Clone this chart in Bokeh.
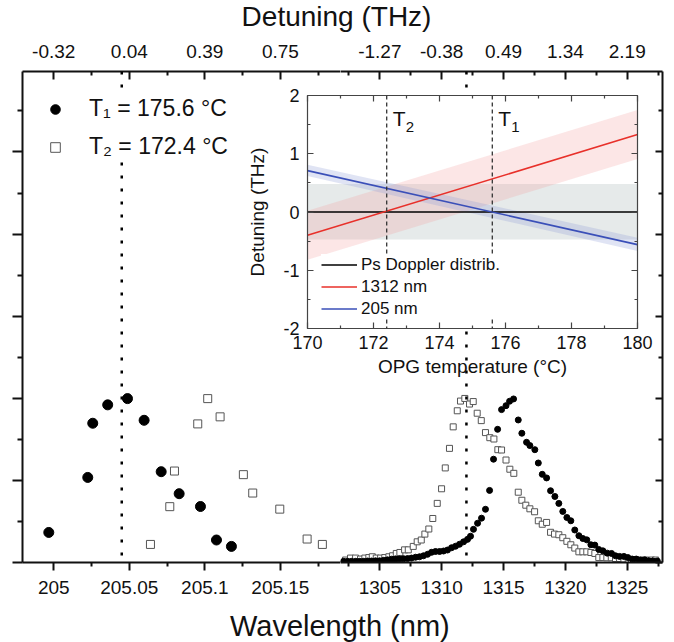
from bokeh.plotting import figure
from bokeh.models import (Range1d, LinearAxis, FixedTicker, Span, Legend, LegendItem,
                          Label, GridBox)
from bokeh.embed import file_html
from bokeh.resources import INLINE

FONT = "Liberation Sans"
INK = "#111111"

# ---------------- data ----------------
wl205_T1 = [204.9967, 205.0225, 205.0258, 205.0357, 205.0488, 205.0598, 205.0711,
            205.0830, 205.0971, 205.1077, 205.1176]
sig205_T1 = [0.183, 0.518, 0.848, 0.960, 0.998, 0.866, 0.553, 0.419, 0.341, 0.137, 0.098]
wl205_T2 = [205.0640, 205.0768, 205.0799, 205.0953, 205.1019, 205.1101, 205.1255,
            205.1317, 205.1496, 205.1677, 205.1778]
sig205_T2 = [0.110, 0.340, 0.557, 0.844, 0.998, 0.887, 0.535, 0.423, 0.325, 0.143, 0.110]

wl1312_T1 = [1302.07, 1302.39, 1302.71, 1303.04, 1303.36, 1303.68, 1304.01, 1304.33, 1304.65, 1304.98,
             1305.30, 1305.62, 1305.95, 1306.27, 1306.59, 1306.92, 1307.24, 1307.56, 1307.89, 1308.21,
             1308.53, 1308.86, 1309.18, 1309.50, 1309.83, 1310.15, 1310.47, 1310.80, 1311.12, 1311.44,
             1311.77, 1312.09, 1312.33, 1312.57, 1312.90, 1313.22, 1313.54, 1313.87, 1314.19, 1314.52,
             1314.84, 1315.20, 1315.49, 1315.81, 1316.19, 1316.48, 1316.86, 1317.13, 1317.53, 1317.81,
             1318.13, 1318.48, 1318.80, 1319.15, 1319.47, 1319.79, 1320.12, 1320.44, 1320.76, 1321.09,
             1321.41, 1321.73, 1322.06, 1322.38, 1322.70, 1323.03, 1323.38, 1323.73, 1324.05, 1324.38,
             1324.73, 1325.05, 1325.40, 1325.73, 1326.08, 1326.42, 1326.75, 1327.07, 1327.43]
sig1312_T1 = [0.007, 0.007, 0.007, 0.007, 0.007, 0.007, 0.009, 0.009, 0.010, 0.010,
              0.013, 0.016, 0.020, 0.022, 0.021, 0.023, 0.024, 0.027, 0.032, 0.035,
              0.041, 0.050, 0.062, 0.067, 0.067, 0.070, 0.076, 0.090, 0.099, 0.111,
              0.126, 0.141, 0.160, 0.202, 0.239, 0.270, 0.324, 0.439, 0.629, 0.811,
              0.931, 0.955, 0.982, 0.996, 0.868, 0.787, 0.732, 0.712, 0.687, 0.606,
              0.537, 0.515, 0.437, 0.402, 0.360, 0.311, 0.274, 0.254, 0.198, 0.163,
              0.146, 0.138, 0.108, 0.106, 0.079, 0.071, 0.057, 0.055, 0.041, 0.037,
              0.037, 0.030, 0.021, 0.021, 0.015, 0.016, 0.010, 0.009, 0.009]
wl1312_T2 = [1302.23, 1302.63, 1303.04, 1303.44, 1303.79, 1304.11, 1304.39, 1304.71, 1305.06, 1305.40,
             1305.73, 1306.03, 1306.33, 1306.62, 1307.00, 1307.30, 1307.70, 1308.02, 1308.35, 1308.64,
             1308.96, 1309.28, 1309.64, 1309.99, 1310.29, 1310.63, 1310.93, 1311.26, 1311.52, 1311.87,
             1312.25, 1312.55, 1312.87, 1313.20, 1313.54, 1313.89, 1314.22, 1314.54, 1314.84, 1315.20,
             1315.51, 1315.83, 1316.19, 1316.48, 1316.80, 1317.13, 1317.51, 1317.81, 1318.13, 1318.48,
             1318.80, 1319.12, 1319.47, 1319.79, 1320.12, 1320.44, 1320.76, 1321.09, 1321.41, 1321.73,
             1322.06, 1322.38, 1322.70, 1323.03, 1323.35, 1323.71, 1324.05, 1324.38, 1324.73, 1325.08,
             1325.35, 1325.67, 1326.08, 1326.48, 1326.96, 1327.29]
sig1312_T2 = [0.015, 0.027, 0.027, 0.021, 0.027, 0.030, 0.035, 0.027, 0.027, 0.030,
              0.035, 0.041, 0.055, 0.061, 0.077, 0.077, 0.098, 0.126, 0.137, 0.173,
              0.204, 0.268, 0.360, 0.449, 0.576, 0.695, 0.826, 0.924, 0.983, 0.999,
              0.965, 0.980, 0.909, 0.864, 0.791, 0.760, 0.752, 0.687, 0.685, 0.624,
              0.568, 0.543, 0.428, 0.379, 0.349, 0.327, 0.309, 0.254, 0.233, 0.244,
              0.184, 0.173, 0.169, 0.151, 0.129, 0.108, 0.088, 0.065, 0.065, 0.065,
              0.061, 0.055, 0.030, 0.030, 0.029, 0.029, 0.024, 0.024, 0.021, 0.016,
              0.016, 0.016, 0.015, 0.015, 0.015, 0.015]

left_ticks = [205.0, 205.05, 205.1, 205.15]
left_minor = [205.025, 205.075, 205.125, 205.175]
left_tick_labels = ["205", "205.05", "205.1", "205.15"]
left_detuning_labels = ["-0.32", "0.04", "0.39", "0.75"]
right_ticks = [1305, 1310, 1315, 1320, 1325]
right_minor = [1302.5, 1307.5, 1312.5, 1317.5, 1322.5, 1327.5]
right_tick_labels = ["1305", "1310", "1315", "1320", "1325"]
right_detuning_labels = ["-1.27", "-0.38", "0.49", "1.34", "2.19"]
y_ticks = [0, 0.5, 1.0, 1.5, 2.0, 2.5]
y_minor = [0.25, 0.75, 1.25, 1.75, 2.25, 2.75]

T1_label = "T\u2081 = 175.6 \u00b0C"
T2_label = "T\u2082 = 172.4 \u00b0C"
T1_value = 175.6
T2_value = 172.4
line_205_nm = 205.045
line_1312_nm = 1312.0

inset_T = [170, 180]
doppler = [0.0, 0.0]
doppler_low = [-0.47, -0.47]
doppler_high = [0.48, 0.48]
red_line = [-0.40, 1.33]
red_low = [-0.82, 0.91]
red_high = [0.02, 1.75]
blue_line = [0.71, -0.56]
blue_low = [0.62, -0.67]
blue_high = [0.81, -0.44]
inset_xticks = [170, 172, 174, 176, 178, 180]
inset_xminor = [171, 173, 175, 177, 179]
inset_yticks = [-2, -1, 0, 1, 2]
inset_yminor = [-1.5, -0.5, 0.5, 1.5]

L_RANGE = (204.9793, 205.1898)
R_RANGE = (1301.82, 1327.85)
Y_RANGE = (0.0, 2.99)


def base_fig(**kw):
    p = figure(output_backend="svg", toolbar_location=None, sizing_mode="fixed",
               x_axis_location=None, y_axis_location=None, frame_align=False, **kw)
    p.outline_line_color = None
    p.grid.visible = False
    p.background_fill_color = "white"
    return p


def style_axis(ax, lw=2, tin=0, tout=0, min_in=0, min_out=0, size="19px", standoff=6,
               color=INK):
    ax.axis_line_width = lw
    ax.axis_line_color = color
    ax.major_tick_line_width = lw
    ax.minor_tick_line_width = lw
    ax.major_tick_line_color = color
    ax.minor_tick_line_color = color
    ax.major_tick_in = tin
    ax.major_tick_out = tout
    ax.minor_tick_in = min_in
    ax.minor_tick_out = min_out
    ax.major_label_text_font = FONT
    ax.major_label_text_font_size = size
    ax.major_label_text_color = INK
    ax.major_label_standoff = standoff


def add_axis(p, side, ticks, minor, labels, **kw):
    ax = LinearAxis(ticker=FixedTicker(ticks=ticks, minor_ticks=minor),
                    major_label_overrides={t: l for t, l in zip(ticks, labels)})
    style_axis(ax, **kw)
    p.add_layout(ax, side)
    return ax


# ---------------- main left panel (205 nm) ----------------
pL = base_fig(width=340, height=568, x_range=Range1d(*L_RANGE), y_range=Range1d(*Y_RANGE),
              min_border_left=22, min_border_right=0, min_border_top=37, min_border_bottom=40)
add_axis(pL, "below", left_ticks, left_minor, left_tick_labels, tout=8, min_out=4, standoff=10)
add_axis(pL, "above", left_ticks, left_minor, left_detuning_labels, tin=8, min_in=4, standoff=14)
add_axis(pL, "left", y_ticks, y_minor, [""] * len(y_ticks), tout=10, min_out=5, standoff=0)

pL.add_layout(Span(location=line_205_nm, dimension="height", line_color="black",
                   line_width=2.5, line_dash="3 10"))
rL2 = pL.scatter(wl205_T2, sig205_T2, marker="square", size=8, fill_color="white",
                 line_color="#555555", line_width=1)
rL1 = pL.scatter(wl205_T1, sig205_T1, marker="circle", size=10, fill_color="black",
                 line_color="black")

leg = Legend(items=[LegendItem(label=T1_label, renderers=[rL1]),
                    LegendItem(label=T2_label, renderers=[rL2])],
             location=(21, 402), padding=0, margin=0, spacing=11,
             glyph_width=24, glyph_height=26, label_height=26, label_standoff=22,
             label_text_font=FONT, label_text_font_size="23px", label_text_color=INK,
             border_line_color=None, background_fill_color="white", background_fill_alpha=1.0)
pL.add_layout(leg)

# ---------------- main right panel (1312 nm) ----------------
pR = base_fig(width=328, height=568, x_range=Range1d(*R_RANGE), y_range=Range1d(*Y_RANGE),
              min_border_left=0, min_border_right=6, min_border_top=37, min_border_bottom=40)
add_axis(pR, "below", right_ticks, right_minor, right_tick_labels, tout=8, min_out=4, standoff=10)
add_axis(pR, "above", right_ticks, right_minor, right_detuning_labels, tin=8, min_in=4, standoff=14)
add_axis(pR, "right", y_ticks, y_minor, [""] * len(y_ticks), tin=7, min_in=4, standoff=0)

pR.add_layout(Span(location=line_1312_nm, dimension="height", line_color="black",
                   line_width=2.5, line_dash="3 10"))
pR.scatter(wl1312_T2, sig1312_T2, marker="square", size=6, fill_color="white",
           line_color="#555555", line_width=1)
pR.scatter(wl1312_T1, sig1312_T1, marker="circle", size=6, fill_color="black",
           line_color="black")

# ---------------- shared axis titles ----------------
pT = base_fig(width=668, height=34, x_range=Range1d(0, 1), y_range=Range1d(0, 34), min_border=0)
pT.add_layout(Label(x=0.503, y=18, text="Detuning (THz)", text_align="center",
                    text_baseline="alphabetic", text_font=FONT, text_font_size="28px",
                    text_color=INK))
pB = base_fig(width=668, height=40, x_range=Range1d(0, 1), y_range=Range1d(0, 40), min_border=0)
pB.add_layout(Label(x=0.508, y=17, text="Wavelength (nm)", text_align="center",
                    text_baseline="alphabetic", text_font=FONT, text_font_size="29px",
                    text_color=INK))

# ---------------- inset ----------------
pI = base_fig(width=411, height=309, x_range=Range1d(170, 180), y_range=Range1d(-2, 2),
              min_border_left=62, min_border_right=18, min_border_top=20, min_border_bottom=56)
pI.border_fill_alpha = 0
pI.outline_line_color = "#555555"
ICOL = "#444444"
axb = add_axis(pI, "below", inset_xticks, inset_xminor, [str(t) for t in inset_xticks],
               lw=1.2, tin=6, min_in=3, size="18px", standoff=7, color=ICOL)
axb.axis_label = "OPG temperature (\u00b0C)"
axl = add_axis(pI, "left", inset_yticks, inset_yminor, [str(t) for t in inset_yticks],
               lw=1.2, tin=6, min_in=3, size="18px", standoff=8, color=ICOL)
axl.axis_label = "Detuning (THz)"
for ax, so in ((axb, 4), (axl, 12)):
    ax.axis_label_text_font = FONT
    ax.axis_label_text_font_size = "19px"
    ax.axis_label_text_font_style = "normal"
    ax.axis_label_text_color = INK
    ax.axis_label_standoff = so
add_axis(pI, "above", inset_xticks, inset_xminor, [""] * len(inset_xticks),
         lw=1.2, tin=6, min_in=3, size="10px", standoff=0, color=ICOL)
add_axis(pI, "right", inset_yticks, inset_yminor, [""] * len(inset_yticks),
         lw=1.2, tin=6, min_in=3, size="10px", standoff=0, color=ICOL)

pI.varea(x=inset_T, y1=doppler_low, y2=doppler_high, fill_color="#d6dcdc", fill_alpha=0.6)
pI.varea(x=inset_T, y1=red_low, y2=red_high, fill_color="#f29a9a", fill_alpha=0.25)
pI.varea(x=inset_T, y1=blue_low, y2=blue_high, fill_color="#8c9ad8", fill_alpha=0.27)
for tv in (T2_value, T1_value):
    pI.add_layout(Span(location=tv, dimension="height", line_color="#333333",
                       line_width=1.3, line_dash="4 3"))
r_dop = pI.line(inset_T, doppler, line_color="black", line_width=1.6)
r_red = pI.line(inset_T, red_line, line_color="#e8302a", line_width=1.6)
r_blue = pI.line(inset_T, blue_line, line_color="#3a4fb8", line_width=1.6)

for tv, sub in ((T2_value, "2"), (T1_value, "1")):
    pI.add_layout(Label(x=tv, y=2, x_offset=6, y_offset=-11, text="T", text_font=FONT,
                        text_font_size="21px", text_baseline="top", text_color=INK))
    pI.add_layout(Label(x=tv, y=2, x_offset=19, y_offset=-26, text=sub, text_font=FONT,
                        text_font_size="15px", text_baseline="top", text_color=INK))

ileg = Legend(items=[LegendItem(label="Ps Doppler distrib.", renderers=[r_dop]),
                     LegendItem(label="1312 nm", renderers=[r_red]),
                     LegendItem(label="205 nm", renderers=[r_blue])],
              location=(14, 9), padding=4, margin=0, spacing=1,
              glyph_width=36, glyph_height=21, label_height=21, label_standoff=4,
              label_text_font=FONT, label_text_font_size="17px", label_text_color=INK,
              border_line_color=None, background_fill_color="white", background_fill_alpha=1.0)
pI.add_layout(ileg)
pI.margin = (41, 0, 0, 244)

layout = GridBox(children=[(pT, 0, 0, 1, 2), (pL, 1, 0), (pR, 1, 1), (pB, 2, 0, 1, 2),
                           (pI, 1, 0, 1, 2)], spacing=0,
                 cols=["340px", "328px"], rows=["34px", "568px", "40px"])

open("out.html", "w").write(file_html(layout, INLINE))
